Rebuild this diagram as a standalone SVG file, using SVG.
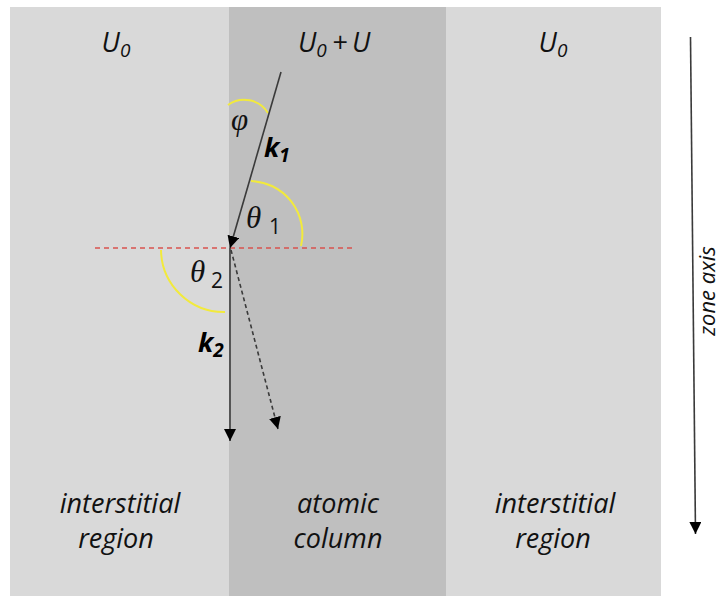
<svg xmlns="http://www.w3.org/2000/svg" width="720" height="596" viewBox="0 0 720 596">
<defs>
<style>
.lbl{font-family:"Open Sans","Liberation Sans",sans-serif;font-style:italic;fill:#111;}
.big{font-size:27px;}
.sub{font-size:19px;}
.greek{font-family:"Liberation Serif","DejaVu Serif",serif;font-style:italic;font-size:31px;fill:#111;}
.num{font-family:"Open Sans","Liberation Sans",sans-serif;font-size:21px;fill:#111;}
.kvec{font-family:"Open Sans","Liberation Sans",sans-serif;font-style:italic;font-weight:bold;fill:#000;}
.arc{fill:none;stroke:#f2ea3c;stroke-width:2;}
.ray{stroke:#3a3a3a;stroke-width:1.6;fill:none;}
</style>
<marker id="ah" markerUnits="userSpaceOnUse" markerWidth="12" markerHeight="12" refX="12" refY="6" orient="auto" viewBox="0 0 12 12">
<path d="M0,0 L12,6 L0,12 z" fill="#000"/>
</marker>
</defs>
<rect x="0" y="0" width="720" height="596" fill="#fff"/>
<g id="left-region">
<rect x="10" y="7" width="219" height="589" fill="#d9d9d9"/>
<text class="lbl big" x="116" y="52" text-anchor="middle">U<tspan class="sub" dy="5">0</tspan></text>
<text class="lbl big" x="120" y="513" text-anchor="middle">interstitial</text>
<text class="lbl big" x="116" y="548" text-anchor="middle">region</text>
</g>
<g id="atomic-column">
<rect x="229" y="7" width="217" height="589" fill="#bfbfbf"/>
<text class="lbl big" x="298" y="52">U<tspan class="sub" dy="5">0</tspan><tspan x="332" dy="-5">+</tspan><tspan x="352">U</tspan></text>
<text class="lbl big" x="338" y="513" text-anchor="middle">atomic</text>
<text class="lbl big" x="338" y="548" text-anchor="middle">column</text>
</g>
<g id="right-region">
<rect x="446" y="7" width="215" height="589" fill="#d9d9d9"/>
<text class="lbl big" x="553" y="52" text-anchor="middle">U<tspan class="sub" dy="5">0</tspan></text>
<text class="lbl big" x="555" y="513" text-anchor="middle">interstitial</text>
<text class="lbl big" x="553" y="548" text-anchor="middle">region</text>
</g>
<g id="angles">
<path class="arc" d="M228,105 A28,28 0 0 1 268,113"/>
<path class="arc" d="M251,181 A53,53 0 0 1 301,246"/>
<path class="arc" d="M161,250 A63,63 0 0 0 225,312"/>
<text class="greek" x="231" y="130">φ</text>
<text class="greek" x="246" y="228">θ</text>
<text class="num" x="269" y="234">1</text>
<text class="greek" x="190" y="282">θ</text>
<text class="num" x="211" y="288">2</text>
</g>
<g id="connectors">
<line x1="95" y1="248" x2="355" y2="248" stroke="#d9534f" stroke-width="1.5" stroke-dasharray="5,4"/>
<line class="ray" x1="281" y1="72" x2="230" y2="248" marker-end="url(#ah)"/>
<line class="ray" x1="230" y1="248" x2="230" y2="441" marker-end="url(#ah)"/>
<line class="ray" x1="231" y1="250" x2="278" y2="429" stroke-dasharray="4,3" marker-end="url(#ah)"/>
<line class="ray" x1="690.5" y1="37" x2="695.5" y2="534" stroke="#555" marker-end="url(#ah)"/>
</g>
<g id="vector-labels">
<text class="kvec" x="264" y="157" font-size="27">k<tspan font-size="19" dy="5">1</tspan></text>
<text class="kvec" x="198" y="352" font-size="27">k<tspan font-size="19" dy="5">2</tspan></text>
</g>
<g id="zone-axis-label">
<text class="lbl" font-size="22" transform="translate(715,291) rotate(-90)" text-anchor="middle">zone axis</text>
</g>
</svg>
